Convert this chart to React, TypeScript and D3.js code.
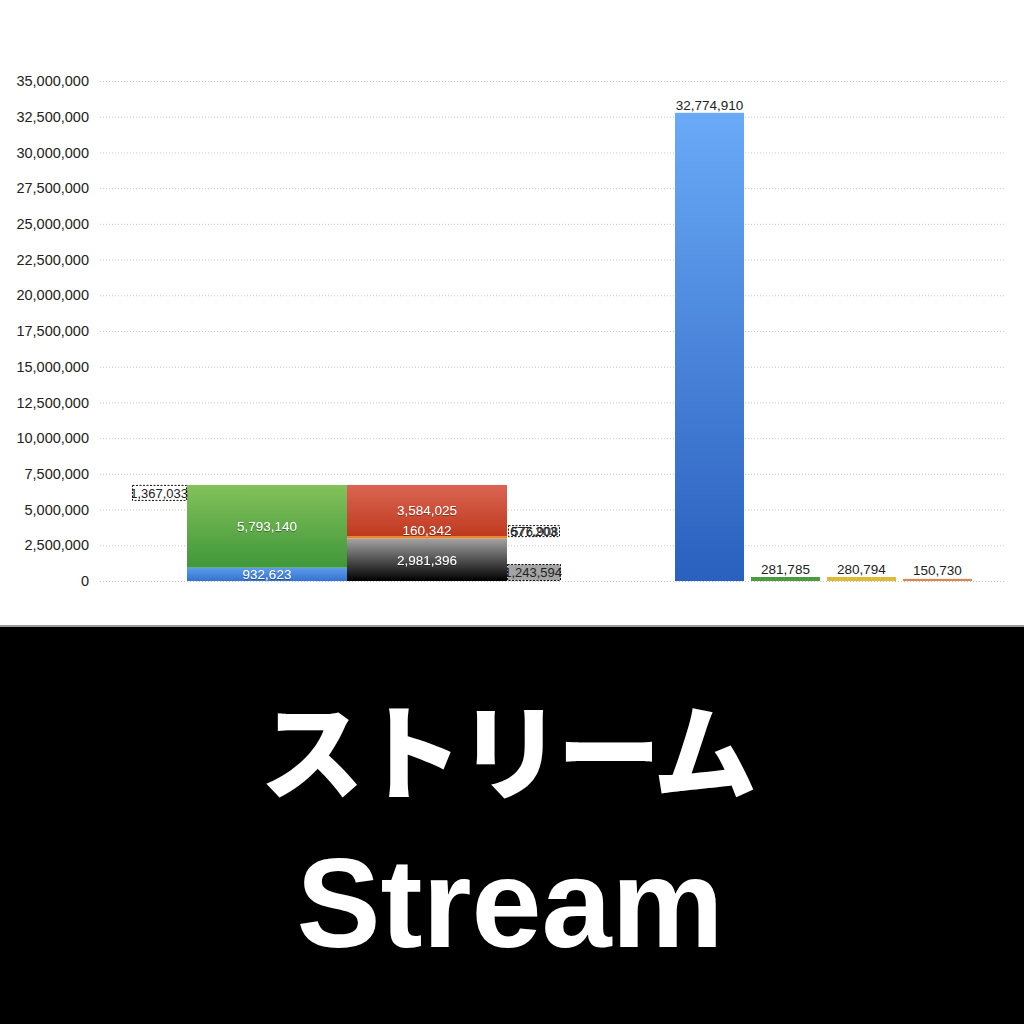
import React from 'react';
import * as d3 from 'd3';

// left group: two stacked columns
const stackNames = ['stackA', 'stackB'];
const stackKeys = ['s0', 's1', 's2'];
const stackValues = [
    { name: 'stackA', s0: 932623, s1: 5793140, s2: 0 },
    { name: 'stackB', s0: 2981396, s1: 160342, s2: 3584025 },
];
const stackColors = [
    ['blue', 'green', 'none'],
    ['black', 'orange', 'red'],
];

// right group: plain columns
const barNames = ['bar1', 'bar2', 'bar3', 'bar4'];
const barValues = [32774910, 281785, 280794, 150730];
const barColors = ['tallBlue', '#4c9a42', '#dcbc36', '#d48a52'];

const groupNames = ['left', 'right'];

// labels hanging outside the stacks
const calloutTexts = [['1,367,033'], ['677,203', '576,908'], ['1,243,594']];
const calloutStacks = ['stackA', 'stackB', 'stackB'];
const calloutAnchors = ['top', 's1', 'bottom'];

const yMax = 35000000;
const yTicks = d3.range(0, yMax + 1, 2500000);

const gradients: Record<string, [string, string]> = {
    blue: ['#5d9ded', '#3473cf'],
    green: ['#84c15a', '#3f973a'],
    red: ['#da6553', '#bf3a1e'],
    black: ['#a3a3a3', '#000000'],
    tallBlue: ['#6aaaf7', '#2a60be'],
};
const solids: Record<string, string> = { orange: '#ec8427' };

const fill = (c: string) => gradients[c] ? `url(#g-${c})` : (solids[c] || c);

const fmt = d3.format(',');

function App() {
    const width = 1024;
    const height = 1024;
    const y = d3.scaleLinear().domain([0, yMax]).range([581, 81]);
    const groupX = d3.scalePoint().domain(groupNames).range([347, 823.5]);

    const stackX = d3.scaleBand().domain(stackNames)
        .range([groupX('left')! - 160, groupX('left')! + 160]).paddingInner(0);
    const barX = d3.scaleBand().domain(barNames)
        .range([groupX('right')! - 148.5, groupX('right')! + 148.5]).paddingInner(0.092);

    const series = d3.stack<any>().keys(stackKeys)(stackValues);
    const font = '"Liberation Sans", Arial, sans-serif';

    const segs: any[] = [];
    series.forEach((layer, li) => {
        layer.forEach((d, si) => {
            const v = d[1] - d[0];
            if (v <= 0) return;
            segs.push({ stack: stackNames[si], key: stackKeys[li], v, y0: y(d[0]), y1: y(d[1]), color: stackColors[si][li] });
        });
    });

    const stackTop = (name: string) => y(d3.sum(stackKeys, k => (stackValues.find(s => s.name === name) as any)[k]));

    return (
        <svg width={width} height={height} style={{ position: 'absolute', left: 0, top: 0 }} fontFamily={font}>
            <defs>
                {Object.entries(gradients).map(([k, [a, b]]) => (
                    <linearGradient key={k} id={`g-${k}`} x1="0" y1="0" x2="0" y2="1">
                        <stop offset="0" stopColor={a} />
                        <stop offset="1" stopColor={b} />
                    </linearGradient>
                ))}
                <filter id="shadow" x="-10%" y="-30%" width="120%" height="160%">
                    <feDropShadow dx="0" dy="0.6" stdDeviation="0.6" floodColor="#000" floodOpacity="0.6" />
                </filter>
            </defs>
            <rect width={width} height={height} fill="#fff" />

            {yTicks.map(t => (
                <g key={t}>
                    <line x1={100} x2={1005} y1={y(t) + 0.5} y2={y(t) + 0.5} stroke="#c8c8c8" strokeWidth={1} strokeDasharray="1,2" />
                    <text x={89} y={y(t)} dy="0.35em" textAnchor="end" fontSize={14.5} fill="#222">{fmt(t)}</text>
                </g>
            ))}

            {segs.map((s, i) => (
                <rect key={i} x={stackX(s.stack)} width={stackX.bandwidth()} y={s.y1} height={s.y0 - s.y1} fill={fill(s.color)} />
            ))}
            {segs.map((s, i) => {
                const h = s.y0 - s.y1;
                const ly = h < 6 ? s.y1 - 6 : (s.y0 + s.y1) / 2;
                return (
                    <text key={i} x={stackX(s.stack)! + stackX.bandwidth() / 2} y={ly} dy="0.36em" textAnchor="middle"
                        fontSize={13.5} fill="#fff" filter="url(#shadow)">{fmt(s.v)}</text>
                );
            })}

            {calloutTexts.map((texts, i) => {
                const sn = calloutStacks[i];
                const a = calloutAnchors[i];
                const left = i === 0;
                const bx = left ? stackX(sn)! - 55 : stackX(sn)! + stackX.bandwidth() + (i === 1 ? 1 : 0);
                const bw = left ? 55 : (i === 1 ? 52 : 54);
                let by: number, bh: number;
                if (a === 'top') { by = stackTop(sn); bh = 16; }
                else if (a === 'bottom') { by = y(0) - 17; bh = 17; }
                else {
                    const s = segs.find(g => g.stack === sn && g.key === a);
                    by = s.y1 - 11; bh = 12;
                }
                const cid = `clip-${i}`;
                const multi = texts.length > 1;
                return (
                    <g key={i}>
                        <clipPath id={cid}><rect x={bx} y={by} width={bw + 2} height={bh} /></clipPath>
                        <rect x={bx + 0.5} y={by + 0.5} width={bw - 1} height={bh - 1}
                            fill={a === 'bottom' ? '#a4a4a4' : '#fff'} stroke="#111" strokeWidth={1} strokeDasharray="2,1.5" />
                        <g clipPath={`url(#${cid})`}>
                            {texts.map((t, j) => (
                                <text key={j} x={multi ? bx + 2 + j * 1.2 : bx + bw + 1} y={by + bh / 2} dy="0.36em"
                                    textAnchor={multi ? 'start' : 'end'} fontSize={13} fill="#222">{t}</text>
                            ))}
                        </g>
                    </g>
                );
            })}

            {barNames.map((b, i) => (
                <g key={b}>
                    <rect x={barX(b)} width={barX.bandwidth()} y={y(barValues[i])} height={y(0) - y(barValues[i])} fill={fill(barColors[i])} />
                    <text x={barX(b)! + barX.bandwidth() / 2} y={Math.min(y(barValues[i]) - 8, 570)} dy="0.36em"
                        textAnchor="middle" fontSize={13.5} fill="#222">{fmt(barValues[i])}</text>
                </g>
            ))}

            <rect x={0} y={625} width={width} height={2} fill="#9a9a9a" />
            <rect x={0} y={627} width={width} height={height - 627} fill="#000" />
            <text x={width / 2 - 6} y={792} textAnchor="middle" fontSize={104} fontWeight={900}
                fontFamily='"Noto Sans CJK JP", sans-serif' fill="#fff" letterSpacing={-5}>ストリーム</text>
            <text x={width / 2 - 2} y={947} textAnchor="middle" fontSize={126} fontWeight={700}
                fontFamily={font} fill="#fff">Stream</text>
        </svg>
    );
}

export default App;
